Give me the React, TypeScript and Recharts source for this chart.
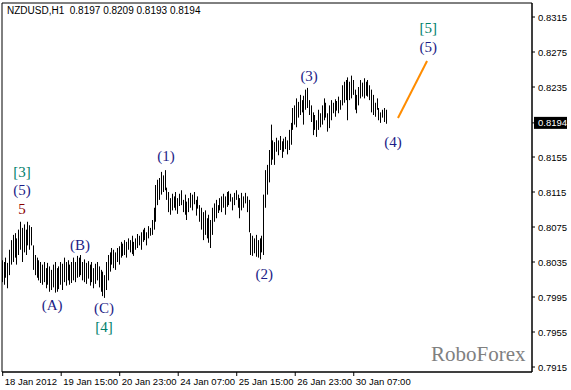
import React from 'react';
import { ComposedChart, Bar, XAxis, YAxis, ReferenceArea, ReferenceLine, ReferenceDot } from 'recharts';

// NZDUSD H1, bar highs / lows (oldest first)
const highs = [
  0.8037, 0.8035, 0.8040, 0.8034, 0.8049, 0.8060, 0.8066, 0.8068, 0.8062, 0.8072,
  0.8081, 0.8074, 0.8078, 0.8072, 0.8081, 0.8077, 0.8075, 0.8054, 0.8043, 0.8040,
  0.8037, 0.8035, 0.8032, 0.8035, 0.8028, 0.8034, 0.8030, 0.8026, 0.8032, 0.8035,
  0.8028, 0.8030, 0.8035, 0.8033, 0.8040, 0.8035, 0.8037, 0.8032, 0.8035, 0.8040,
  0.8035, 0.8042, 0.8040, 0.8043, 0.8035, 0.8038, 0.8034, 0.8036, 0.8032, 0.8035,
  0.8028, 0.8033, 0.8035, 0.8030, 0.8026, 0.8024, 0.8020, 0.8035, 0.8043, 0.8046,
  0.8051, 0.8049, 0.8046, 0.8051, 0.8053, 0.8058, 0.8056, 0.8060, 0.8058, 0.8062,
  0.8060, 0.8065, 0.8058, 0.8062, 0.8067, 0.8065, 0.8069, 0.8072, 0.8074, 0.8069,
  0.8076, 0.8074, 0.8083, 0.8097, 0.8123, 0.8129, 0.8131, 0.8138, 0.8134, 0.8140,
  0.8120, 0.8115, 0.8108, 0.8113, 0.8110, 0.8115, 0.8108, 0.8113, 0.8117, 0.8106,
  0.8112, 0.8104, 0.8108, 0.8114, 0.8112, 0.8115, 0.8106, 0.8110, 0.8100, 0.8097,
  0.8092, 0.8094, 0.8085, 0.8089, 0.8083, 0.8097, 0.8102, 0.8106, 0.8100, 0.8108,
  0.8110, 0.8113, 0.8110, 0.8115, 0.8116, 0.8113, 0.8109, 0.8114, 0.8117, 0.8112,
  0.8108, 0.8114, 0.8110, 0.8114, 0.8110, 0.8106, 0.8068, 0.8065, 0.8062, 0.8066,
  0.8060, 0.8062, 0.8065, 0.8112, 0.8140, 0.8146, 0.8163, 0.8192, 0.8174, 0.8172,
  0.8177, 0.8174, 0.8179, 0.8173, 0.8176, 0.8178, 0.8174, 0.8186, 0.8194, 0.8211,
  0.8214, 0.8222, 0.8218, 0.8226, 0.8220, 0.8225, 0.8232, 0.8234, 0.8220, 0.8214,
  0.8206, 0.8203, 0.8197, 0.8209, 0.8205, 0.8214, 0.8222, 0.8217, 0.8205, 0.8214,
  0.8220, 0.8217, 0.8221, 0.8219, 0.8224, 0.8220, 0.8237, 0.8241, 0.8243, 0.8246,
  0.8241, 0.8248, 0.8243, 0.8232, 0.8226, 0.8235, 0.8243, 0.8240, 0.8245, 0.8241,
  0.8243, 0.8237, 0.8232, 0.8226, 0.8217, 0.8222, 0.8211, 0.8206, 0.8209, 0.8211,
  0.8209,
];

const lows = [
  0.8012, 0.8009, 0.8017, 0.8005, 0.8020, 0.8032, 0.8035, 0.8040, 0.8032, 0.8043,
  0.8049, 0.8035, 0.8046, 0.8043, 0.8054, 0.8049, 0.8054, 0.8026, 0.8020, 0.8017,
  0.8014, 0.8011, 0.8009, 0.8012, 0.8005, 0.8009, 0.8001, 0.8003, 0.8006, 0.8000,
  0.8001, 0.8004, 0.8009, 0.8003, 0.8012, 0.8008, 0.8014, 0.8009, 0.8011, 0.8014,
  0.8012, 0.8017, 0.8018, 0.8020, 0.8014, 0.8012, 0.8010, 0.8016, 0.8008, 0.8012,
  0.8005, 0.8010, 0.8014, 0.8006, 0.8001, 0.7996, 0.7994, 0.8003, 0.8014, 0.8024,
  0.8032, 0.8028, 0.8026, 0.8035, 0.8032, 0.8040, 0.8042, 0.8043, 0.8040, 0.8049,
  0.8046, 0.8044, 0.8042, 0.8049, 0.8051, 0.8054, 0.8049, 0.8058, 0.8060, 0.8054,
  0.8062, 0.8065, 0.8066, 0.8072, 0.8081, 0.8100, 0.8106, 0.8112, 0.8115, 0.8117,
  0.8106, 0.8092, 0.8089, 0.8094, 0.8097, 0.8094, 0.8090, 0.8099, 0.8100, 0.8092,
  0.8089, 0.8083, 0.8092, 0.8097, 0.8094, 0.8101, 0.8088, 0.8096, 0.8081, 0.8072,
  0.8060, 0.8066, 0.8062, 0.8057, 0.8051, 0.8066, 0.8081, 0.8085, 0.8091, 0.8094,
  0.8092, 0.8097, 0.8089, 0.8098, 0.8100, 0.8104, 0.8094, 0.8100, 0.8106, 0.8097,
  0.8085, 0.8094, 0.8097, 0.8102, 0.8092, 0.8069, 0.8043, 0.8042, 0.8045, 0.8041,
  0.8040, 0.8038, 0.8046, 0.8043, 0.8097, 0.8112, 0.8126, 0.8146, 0.8152, 0.8146,
  0.8161, 0.8157, 0.8163, 0.8154, 0.8161, 0.8164, 0.8158, 0.8163, 0.8169, 0.8186,
  0.8192, 0.8189, 0.8200, 0.8203, 0.8206, 0.8192, 0.8209, 0.8211, 0.8203, 0.8195,
  0.8180, 0.8186, 0.8178, 0.8186, 0.8189, 0.8192, 0.8197, 0.8200, 0.8184, 0.8188,
  0.8197, 0.8205, 0.8201, 0.8208, 0.8205, 0.8209, 0.8214, 0.8217, 0.8220, 0.8197,
  0.8220, 0.8222, 0.8226, 0.8209, 0.8205, 0.8214, 0.8222, 0.8224, 0.8222, 0.8225,
  0.8224, 0.8220, 0.8206, 0.8203, 0.8201, 0.8209, 0.8197, 0.8194, 0.8200, 0.8195,
  0.8193,
];

const lastQuote = ['0.8197', '0.8209', '0.8193', '0.8194'];
const lastClose = 0.8194;

const timeTicks = [0, 32, 64, 96, 128, 160, 192];
const timeLabels = ['18 Jan 2012', '19 Jan 15:00', '20 Jan 23:00', '24 Jan 07:00', '25 Jan 15:00', '26 Jan 23:00', '30 Jan 07:00'];
const priceTicks = [0.7915, 0.7955, 0.7995, 0.8035, 0.8075, 0.8115, 0.8155, 0.8194, 0.8235, 0.8275, 0.8315];

const NAVY = '#1c1c86';
const GREEN = '#00806a';
const RED = '#8a0000';

const waveLabels = [
  { text: '[3]', bar: 10.6, price: 0.81379, color: GREEN },
  { text: '(5)', bar: 10.6, price: 0.81173, color: NAVY },
  { text: '5', bar: 10.6, price: 0.80956, color: RED },
  { text: '(A)', bar: 27, price: 0.79859, color: NAVY },
  { text: '(B)', bar: 42.3, price: 0.80544, color: NAVY },
  { text: '(C)', bar: 55.4, price: 0.79824, color: NAVY },
  { text: '[4]', bar: 55.4, price: 0.79607, color: GREEN },
  { text: '(1)', bar: 89.3, price: 0.81561, color: NAVY },
  { text: '(2)', bar: 143, price: 0.80213, color: NAVY },
  { text: '(3)', bar: 167.6, price: 0.82476, color: NAVY },
  { text: '(4)', bar: 213.5, price: 0.81721, color: NAVY },
  { text: '[5]', bar: 232.7, price: 0.83024, color: GREEN },
  { text: '(5)', bar: 232.7, price: 0.82807, color: NAVY },
];

const projection = [
  { bar: 216.2, price: 0.81996 },
  { bar: 232.1, price: 0.82647 },
];

const X_DOMAIN = [-0.38, 289.5];
const Y_DOMAIN = [0.790929, 0.8331];
const FONT = "'Liberation Sans Narrow', 'Liberation Sans', Arial, sans-serif";

const data = highs.map((h, i) => ({ i, range: [lows[i], h] }));

function OhlcBar(props: any) {
  const { x, y, width, height } = props;
  const cx = Math.floor(x + width / 2) + 0.5;
  return <line x1={cx} x2={cx} y1={y} y2={y + height} stroke="#000" strokeWidth={1} />;
}

function PriceTick(props: any) {
  const { x, y, payload } = props;
  const isLast = payload.value === lastClose;
  return (
    <g>
      {isLast && <rect x={x - 4} y={y - 6} width={33} height={12} fill="#000" />}
      <text x={x} y={y + 3.5} fontSize={9.5} fontFamily={FONT} fill={isLast ? '#fff' : '#000'} textAnchor="start">
        {payload.value.toFixed(4)}
      </text>
    </g>
  );
}

function TimeTick(props: any) {
  const { x, y, payload } = props;
  return (
    <text x={x + 2} y={y + 7} fontSize={9.5} fontFamily={FONT} fill="#000" textAnchor="start">
      {timeLabels[timeTicks.indexOf(payload.value)]}
    </text>
  );
}

export default function App() {
  return (
    <div style={{ position: 'fixed', left: 0, top: 0, width: 571, height: 390, background: '#fff' }}>
      <ComposedChart width={571} height={390} data={data} margin={{ top: 3, right: 0, bottom: 0, left: 2 }}>
        <XAxis
          dataKey="i"
          type="number"
          domain={X_DOMAIN}
          ticks={timeTicks}
          interval={0}
          allowDataOverflow
          height={18}
          tickSize={4}
          tickLine={{ stroke: '#000' }}
          axisLine={{ stroke: '#000' }}
          tick={<TimeTick />}
        />
        <YAxis
          orientation="right"
          type="number"
          domain={Y_DOMAIN}
          ticks={priceTicks}
          interval={0}
          allowDataOverflow
          width={39}
          tickSize={3}
          tickMargin={3}
          tickLine={{ stroke: '#000' }}
          axisLine={{ stroke: '#000' }}
          tick={<PriceTick />}
        />
        <ReferenceArea x1={X_DOMAIN[0]} x2={X_DOMAIN[1]} y1={Y_DOMAIN[0]} y2={Y_DOMAIN[1]} fill="none" stroke="#000" strokeWidth={1} fillOpacity={0} />
        <Bar dataKey="range" barSize={1} shape={<OhlcBar />} isAnimationActive={false} />
        <ReferenceLine
          segment={[{ x: projection[0].bar, y: projection[0].price }, { x: projection[1].bar, y: projection[1].price }]}
          stroke="#ff8c00"
          strokeWidth={2}
        />
        {waveLabels.map((w, k) => (
          <ReferenceDot
            key={k}
            x={w.bar}
            y={w.price}
            r={0}
            shape={(p: any) => (
              <text x={p.cx} y={p.cy + 5} textAnchor="middle" fontSize={15} fontFamily="'Liberation Serif', 'Times New Roman', serif" fill={w.color}>
                {w.text}
              </text>
            )}
          />
        ))}
      </ComposedChart>
      <div style={{ position: 'absolute', left: 7, top: 5, fontSize: 10, fontFamily: FONT, color: '#000', whiteSpace: 'pre' }}>
        {'NZDUSD,H1  ' + lastQuote.join(' ')}
      </div>
      <div style={{ position: 'absolute', left: 431, top: 342, fontSize: 21, fontFamily: "'Liberation Serif', 'Times New Roman', serif", color: '#808080' }}>
        RoboForex
      </div>
    </div>
  );
}
